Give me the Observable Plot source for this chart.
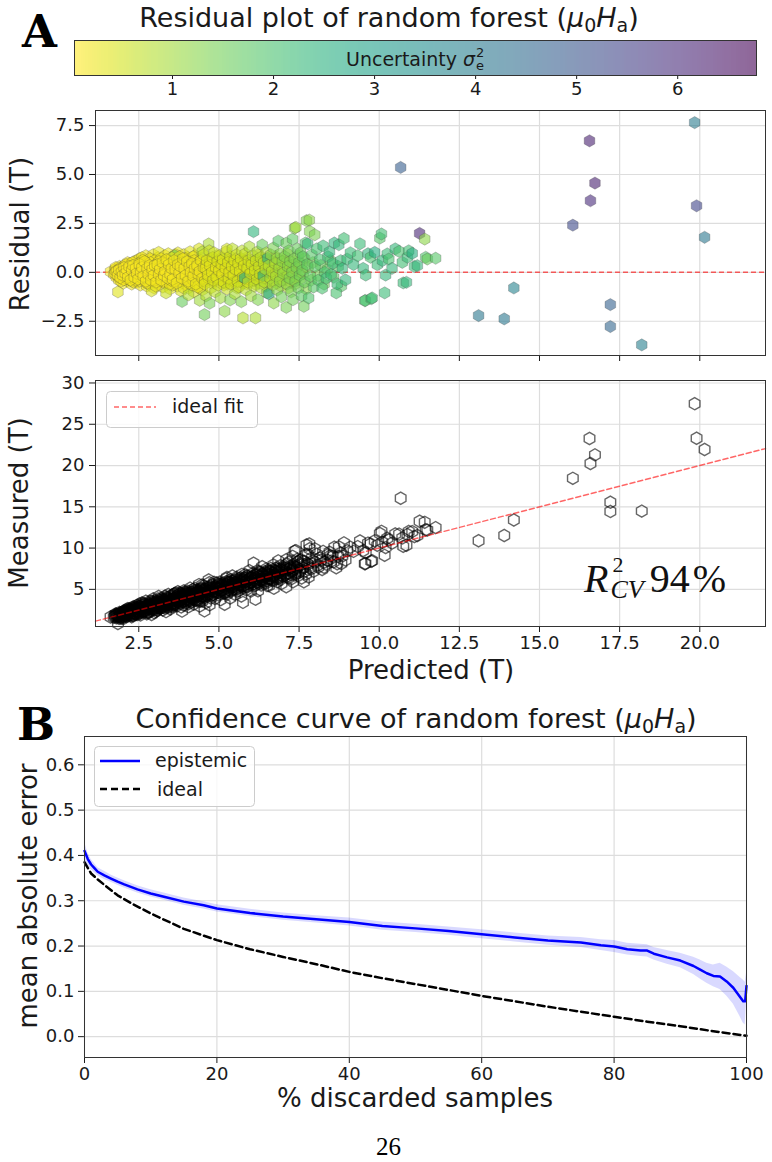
<!DOCTYPE html>
<html><head><meta charset="utf-8">
<script src="https://cdn.jsdelivr.net/npm/d3@7"></script>
<script src="https://cdn.jsdelivr.net/npm/@observablehq/plot@0.6"></script>
<style>
body{margin:0;background:#fff;}
#fig{position:relative;width:772px;height:1162px;overflow:hidden;font-family:"DejaVu Sans";background:#fff;}
.panel{position:absolute;left:0;}
#overlay{position:absolute;left:0;top:0;pointer-events:none;}
</style></head><body><div id="fig">
<div class="panel" id="cb" style="top:30px"></div>
<div class="panel" id="res" style="top:100px"></div>
<div class="panel" id="meas" style="top:370px"></div>
<div class="panel" id="conf" style="top:726px"></div>
<svg id="overlay" width="772" height="1162" font-family="DejaVu Sans" fill="#1a1a1a">
  <text x="22" y="47" font-family="DejaVu Serif" font-weight="bold" font-size="45" fill="#000">A</text>
  <text x="389" y="27" text-anchor="middle" font-size="27">Residual plot of random forest (<tspan font-style="italic">μ</tspan><tspan font-size="19" dy="5">0</tspan><tspan font-style="italic" dy="-5">H</tspan><tspan font-size="19" dy="5">a</tspan><tspan dy="-5">)</tspan></text>
  <text x="346" y="66" font-size="19">Uncertainty <tspan font-style="italic">σ</tspan><tspan font-size="13" dx="1" dy="-9">2</tspan><tspan font-size="13" dx="-8.3" dy="13">e</tspan></text>
  <text transform="translate(29,234) rotate(-90)" text-anchor="middle" font-size="26">Residual (T)</text>
  <text transform="translate(28,503) rotate(-90)" text-anchor="middle" font-size="26">Measured (T)</text>
  <text x="431" y="679" text-anchor="middle" font-size="26">Predicted (T)</text>
  <rect x="106.5" y="391.5" width="151" height="36" rx="4" fill="white" fill-opacity="0.8" stroke="#cccccc"/>
  <line x1="114" x2="156" y1="407" y2="407" stroke="red" stroke-opacity="0.6" stroke-width="1.5" stroke-dasharray="5,3"/>
  <text x="172" y="413" font-size="19">ideal fit</text>
  <text x="584" y="592" font-family="Liberation Serif" font-size="40" fill="#111"><tspan font-style="italic">R</tspan><tspan font-size="22" dx="4" dy="-20">2</tspan><tspan font-style="italic" font-size="26" dx="-13" dy="26">CV</tspan><tspan dx="6" dy="-6">94</tspan><tspan dx="3">%</tspan></text>
  <text x="17" y="740" font-family="DejaVu Serif" font-weight="bold" font-size="45" fill="#000">B</text>
  <text x="416" y="728" text-anchor="middle" font-size="27">Confidence curve of random forest (<tspan font-style="italic">μ</tspan><tspan font-size="19" dy="5">0</tspan><tspan font-style="italic" dy="-5">H</tspan><tspan font-size="19" dy="5">a</tspan><tspan dy="-5">)</tspan></text>
  <rect x="94.5" y="746.5" width="160" height="60" rx="4" fill="white" fill-opacity="0.8" stroke="#cccccc"/>
  <line x1="100" x2="140" y1="761" y2="761" stroke="blue" stroke-width="2.5"/>
  <text x="155" y="767" font-size="19">epistemic</text>
  <line x1="100" x2="140" y1="789" y2="789" stroke="black" stroke-width="2.5" stroke-dasharray="7,4"/>
  <text x="157" y="796" font-size="19">ideal</text>
  <text transform="translate(37,896) rotate(-90)" text-anchor="middle" font-size="26">mean absolute error</text>
  <text x="415" y="1107" text-anchor="middle" font-size="26">% discarded samples</text>
  <text x="388.5" y="1155" text-anchor="middle" font-family="Liberation Serif" font-size="25" fill="#000">26</text>
</svg>
</div>
<script>
// ---------- Data: [predicted (T), residual (T), uncertainty sigma_e^2] ----------
const clusterLow = [
[1.62,0.03,0.15],[1.72,-0.1,0.1],[1.75,0.12,0.12],[1.8,-0.25,0.1],[1.8,0.2,0.15],[1.85,-1.0,0.35],[1.85,0.05,0.08],[1.88,-0.4,0.12],[1.9,0.3,0.2],[1.92,-0.12,0.1],
[1.95,0.15,0.08],[1.98,-0.3,0.15],[2.0,0.02,0.1],[2.02,-0.55,0.2],[2.05,0.35,0.12],[2.08,-0.18,0.1],[2.1,0.1,0.08],[2.12,-0.42,0.15],[2.15,0.25,0.1],[2.18,-0.05,0.12],
[2.2,0.45,0.18],[2.22,-0.3,0.1],[2.25,0.08,0.1],[2.28,-0.6,0.2],[2.3,0.2,0.12],[2.32,-0.15,0.1],[2.35,0.55,0.15],[2.38,-0.35,0.12],[2.4,0.0,0.08],[2.42,0.38,0.15],
[2.45,-0.5,0.18],[2.48,0.12,0.1],[2.5,-0.22,0.12],[2.52,0.7,0.2],[2.55,-0.65,0.2],[2.58,0.3,0.12],[2.6,-0.08,0.1],[2.62,0.5,0.15],[2.65,-0.4,0.15],[2.68,0.18,0.1],
[2.7,-0.25,0.12],[2.72,0.85,0.2],[2.75,-0.7,0.22],[2.78,0.05,0.1],[2.8,0.4,0.15],[2.82,-0.5,0.18],[2.85,0.22,0.12],[2.88,-0.15,0.1],[2.9,0.65,0.18],[2.92,-0.35,0.15],
[2.95,0.9,0.25],[2.98,-0.8,0.25],[3.0,0.1,0.12],[3.02,0.45,0.15],[3.05,-0.2,0.1],[3.08,-0.6,0.2],[3.1,0.75,0.2],[3.12,1.02,0.3],[3.15,0.3,0.12],[3.18,-0.45,0.15],
[3.2,0.0,0.1],[3.22,0.55,0.18],[3.25,-0.75,0.25],[3.28,0.2,0.12],[3.3,-0.3,0.15],[3.32,0.85,0.22],[3.35,-0.1,0.1],[3.38,0.4,0.15],[3.4,-0.55,0.2],[3.42,0.95,0.25],
[3.45,0.1,0.12],[3.48,-0.85,0.3],[3.5,0.6,0.18],[3.52,-0.25,0.15],[3.55,0.3,0.12],[3.58,-0.5,0.2],[3.6,0.8,0.22],[3.62,0.05,0.1],[3.65,-0.35,0.18],[3.68,0.5,0.15],
[3.7,-0.7,0.25],[3.72,1.0,0.3],[3.75,0.2,0.12],[3.78,-0.15,0.15],[3.8,0.65,0.2],[3.82,-0.95,0.4],[3.85,-1.49,1.6],[3.85,0.35,0.15],[3.88,-0.4,0.2],[3.9,0.9,0.25],
[3.92,0.0,0.12],[3.95,-0.6,0.22],[3.98,0.45,0.18],[4.0,-0.2,0.15],[4.02,0.75,0.22],[4.05,-0.8,0.3],[4.08,0.15,0.12],[4.1,1.05,0.35],[4.12,-0.45,0.2],[4.15,0.55,0.18],
[4.18,-0.1,0.15],[4.2,0.3,0.15],[4.22,-1.0,0.4],[4.25,0.85,0.25],[4.28,-0.3,0.18],[4.3,0.05,0.15],[4.32,0.6,0.2],[4.35,-0.65,0.25],[4.38,1.2,0.4],[4.4,0.25,0.18],
[4.42,-0.2,0.15],[4.45,0.7,0.22],[4.48,-0.9,0.35],[4.5,0.4,0.2],
[1.78,0.25,0.12],[1.9,-0.05,0.1],[1.95,-0.45,0.15],[2.05,0.0,0.1],[2.1,-0.3,0.12],[2.15,0.5,0.18],[2.2,-0.1,0.1],[2.25,0.3,0.12],[2.3,-0.45,0.15],[2.35,0.1,0.1],
[2.4,-0.2,0.12],[2.45,0.6,0.15],[2.5,0.25,0.1],[2.55,-0.35,0.15],[2.6,0.75,0.2],[2.65,0.05,0.1],[2.7,0.45,0.15],[2.75,-0.15,0.12],[2.8,-0.6,0.2],[2.85,0.7,0.18],
[2.9,0.1,0.1],[2.95,-0.4,0.15],[3.0,0.6,0.18],[3.05,0.25,0.12],[3.1,-0.35,0.15],[3.15,-0.05,0.1],[3.2,0.7,0.2],[3.25,0.35,0.15],[3.3,-0.55,0.2],[3.35,0.15,0.12],
[3.4,0.6,0.18],[3.45,-0.3,0.15],[3.5,0.0,0.12],[3.55,-0.65,0.22],[3.6,0.35,0.15],[3.65,0.9,0.25],[3.7,-0.1,0.12],[3.75,0.6,0.2],[3.8,-0.45,0.18],[3.85,0.1,0.12],
[3.9,-0.8,0.3],[3.95,0.7,0.2],[4.0,0.35,0.18],[4.05,-0.35,0.2],[4.1,0.1,0.15],[4.15,-0.65,0.25],[4.2,0.8,0.25],[4.25,-0.05,0.15],[4.3,-0.5,0.2],[4.35,0.4,0.18],
[4.4,-0.8,0.3],[4.45,0.15,0.15],[4.5,-0.3,0.2],
[3.62,0.85,1.5],[4.4,-1.43,1.0],[4.05,-1.15,0.8],[3.35,-1.05,0.6],[2.9,-0.95,0.45],[4.48,1.05,0.9]
];
const clusterCore = [
[1.82,0.1,0.1],[1.87,-0.2,0.1],[1.93,0.22,0.12],[1.97,-0.08,0.1],[2.03,-0.38,0.12],[2.07,0.18,0.1],[2.13,-0.12,0.1],[2.17,0.32,0.12],[2.23,-0.22,0.1],[2.27,0.05,0.1],
[2.33,-0.5,0.15],[2.37,0.4,0.12],[2.43,-0.1,0.1],[2.47,0.28,0.12],[2.53,-0.45,0.15],[2.57,0.1,0.1],[2.63,0.62,0.18],[2.67,-0.28,0.12],[2.73,0.3,0.12],[2.77,-0.55,0.18],
[2.83,0.08,0.1],[2.87,0.5,0.15],[2.93,-0.25,0.12],[2.97,0.35,0.12],[3.03,-0.7,0.22],[3.07,0.05,0.1],[3.13,0.55,0.15],[3.17,-0.25,0.12],[3.23,0.15,0.12],[3.27,-0.45,0.15],
[3.33,0.45,0.15],[3.37,-0.2,0.12],[3.43,0.25,0.12],[3.47,-0.6,0.2],[3.53,0.75,0.2],[3.57,0.1,0.12],[3.63,-0.45,0.18],[3.67,0.3,0.15],[3.73,-0.3,0.15],[3.77,0.8,0.22],
[3.83,-0.05,0.12],[3.87,0.5,0.18],[3.93,-0.35,0.18],[3.97,0.2,0.15],[4.03,0.55,0.2],[4.07,-0.55,0.22],[4.13,0.35,0.18],[4.17,-0.25,0.18],[4.23,0.6,0.2],[4.27,0.1,0.15],
[4.33,-0.75,0.28],[4.37,0.25,0.18],[4.43,-0.45,0.22],[4.47,0.5,0.2],[4.53,-0.1,0.22],[4.57,0.45,0.25],[4.63,-0.4,0.28],[4.67,0.15,0.22],[4.73,0.7,0.3],[4.77,-0.55,0.3],
[4.83,0.3,0.25],[4.87,-0.2,0.25],[4.93,0.85,0.35],[4.97,0.05,0.25],[5.03,-0.5,0.3],[5.07,0.5,0.3],[5.13,-0.25,0.3],[5.17,0.2,0.28],[5.23,0.7,0.35],[5.27,-0.6,0.35],
[5.33,0.35,0.3],[5.37,-0.1,0.3],[5.43,0.55,0.35],[5.47,-0.45,0.35],[5.53,0.25,0.3],[5.57,-0.8,0.45],[5.63,0.65,0.4],[5.67,-0.2,0.35],[5.73,0.4,0.35],[5.77,-0.55,0.4],
[5.83,0.1,0.35],[5.87,0.75,0.45],[5.93,-0.35,0.4],[5.97,0.3,0.4],[6.03,-0.15,0.4],[6.07,0.55,0.45],[6.13,-0.6,0.5],[6.17,0.25,0.45],[6.23,0.9,0.6],[6.27,-0.35,0.5],
[6.33,0.45,0.5],[6.37,-0.05,0.5],[6.43,0.7,0.6],[6.47,-0.7,0.6],[6.53,0.2,0.55],[6.57,-0.25,0.55],[6.63,0.55,0.6],[6.67,-0.5,0.65],[6.73,0.05,0.6],[6.77,0.8,0.7],
[6.83,-0.35,0.7],[6.87,0.4,0.7],[6.93,-0.7,0.8],[6.97,0.15,0.7],[7.03,0.6,0.8],[7.07,-0.3,0.8],[7.13,0.95,0.9],[7.17,-0.8,0.9],[7.23,0.35,0.9],[7.27,-0.1,0.9],
[7.33,0.55,1.0],[7.37,-0.6,1.0],[7.43,0.2,1.0],[7.47,0.85,1.1],[7.53,-0.35,1.1],[7.57,0.4,1.1],[7.63,-0.05,1.1],[7.67,0.7,1.2],[7.72,-0.85,1.2],[7.78,0.25,1.2],
[7.88,-0.4,1.3],[7.93,0.5,1.3],[8.08,-0.15,1.4],[8.18,0.35,1.5],[8.28,-0.6,1.5],[8.38,0.15,1.6],[8.48,0.6,1.6],[8.58,-0.25,1.7],[8.72,0.3,1.7],[8.82,-0.7,1.8],
[2.0,0.2,0.1],[2.1,0.4,0.12],[2.2,0.15,0.1],[2.3,0.5,0.15],[2.4,-0.4,0.12],[2.5,0.45,0.15],[2.6,-0.3,0.12],[2.7,0.15,0.1],[2.8,0.2,0.12],[2.9,-0.05,0.1],
[3.0,-0.4,0.15],[3.1,0.2,0.12],[3.2,-0.15,0.12],[3.3,0.4,0.15],[3.4,0.05,0.12],[3.5,-0.4,0.15],[3.6,-0.2,0.12],[3.7,0.3,0.15],[3.8,0.1,0.12],[3.9,0.4,0.15],
[4.0,0.1,0.15],[4.1,-0.25,0.18],[4.2,-0.4,0.2],[4.3,0.3,0.18],[4.4,0.55,0.22],[4.5,0.1,0.2],[4.6,-0.3,0.25],[4.7,0.5,0.28],[4.8,-0.1,0.25],[4.9,0.45,0.3],
[5.0,-0.35,0.3],[5.1,0.3,0.3],[5.2,-0.55,0.35],[5.3,0.6,0.35],[5.4,-0.05,0.3],[5.5,0.35,0.35],[5.6,-0.25,0.35],[5.7,0.25,0.35],[5.8,0.55,0.4],[5.9,-0.15,0.4],
[6.0,0.35,0.45],[6.1,-0.4,0.45],[6.2,0.5,0.5],[6.3,-0.2,0.5],[6.4,0.3,0.55],[6.5,-0.5,0.6],[6.6,0.6,0.6],[6.7,-0.1,0.65],[6.8,0.35,0.7],[6.9,-0.3,0.75]
];
const clusterDense = [
[1.76,-0.05,0.1],[1.8,0.05,0.1],[1.84,-0.15,0.1],[1.88,0.12,0.1],[1.92,-0.28,0.12],[1.96,0.02,0.1],[2.0,-0.15,0.1],[2.04,0.25,0.1],[2.08,-0.05,0.1],[2.12,0.15,0.1],
[2.16,-0.25,0.12],[2.2,0.3,0.12],[2.24,-0.4,0.15],[2.28,0.12,0.1],[2.32,0.35,0.12],[2.36,-0.25,0.12],[2.4,0.2,0.1],[2.44,-0.05,0.1],[2.48,-0.35,0.15],[2.52,0.4,0.12],
[2.56,0.0,0.1],[2.6,0.25,0.12],[2.64,-0.2,0.12],[2.68,0.55,0.15],[2.72,-0.45,0.15],[2.76,0.2,0.12],[2.8,-0.1,0.1],[2.84,0.35,0.12],[2.88,-0.4,0.15],[2.92,0.15,0.12],
[2.96,-0.15,0.12],[3.0,0.35,0.15],[3.04,-0.5,0.18],[3.08,0.4,0.15],[3.12,-0.1,0.12],[3.16,0.15,0.12],[3.2,-0.4,0.15],[3.24,0.5,0.18],[3.28,-0.15,0.12],[3.32,0.05,0.12],
[3.36,0.65,0.2],[3.4,-0.3,0.15],[3.44,0.4,0.15],[3.48,-0.1,0.12],[3.52,0.2,0.15],[3.56,-0.35,0.15],[3.6,0.6,0.2],[3.64,0.15,0.12],[3.68,-0.55,0.2],[3.72,0.4,0.15],
[3.76,-0.05,0.12],[3.8,0.3,0.15],[3.84,-0.3,0.15],[3.88,0.7,0.22],[3.92,0.2,0.15],[3.96,-0.15,0.15],[4.0,0.55,0.2],[4.04,-0.45,0.2],[4.08,0.3,0.18],[4.12,0.0,0.15],
[4.16,0.45,0.2],[4.2,-0.2,0.18],[4.24,0.2,0.18],[4.28,-0.6,0.25],[4.32,0.35,0.2],[4.36,-0.1,0.18],[4.4,0.05,0.18],[4.44,0.6,0.22],[4.48,-0.3,0.22],[4.52,0.25,0.22],
[4.56,-0.45,0.25],[4.6,0.4,0.25],[4.64,0.05,0.22],[4.68,-0.3,0.25],[4.72,0.55,0.28],[4.76,0.15,0.25],[4.8,-0.45,0.3],[4.84,0.45,0.28],[4.88,-0.05,0.25],[4.92,0.25,0.28],
[4.96,-0.35,0.3],[5.0,0.65,0.35],[5.04,0.2,0.3],[5.08,-0.2,0.3],[5.12,0.45,0.32],[5.16,-0.65,0.35],[5.2,0.05,0.3],[5.24,0.35,0.32],[5.28,-0.35,0.35],[5.32,0.55,0.35],
[5.36,0.15,0.32],[5.4,-0.45,0.35],[5.44,0.3,0.35],[5.48,-0.1,0.35],[5.52,0.7,0.4],[5.56,0.05,0.35],[5.6,-0.5,0.4],[5.64,0.4,0.38],[5.68,-0.05,0.38],[5.72,0.2,0.38],
[5.76,-0.35,0.4],[5.8,0.6,0.42],[5.84,0.15,0.4],[5.88,-0.6,0.45],[5.92,0.35,0.42],[5.96,-0.15,0.42],[6.0,0.5,0.45],[6.04,0.1,0.45],[6.08,-0.4,0.48],[6.12,0.3,0.48],
[6.16,-0.1,0.48],[6.2,0.65,0.52],[6.24,0.0,0.5],[6.28,-0.55,0.55],[6.32,0.2,0.52],[6.36,0.5,0.55],[6.4,-0.3,0.55],[6.44,0.05,0.55],[6.48,0.4,0.58],[6.52,-0.2,0.58],
[6.56,0.6,0.6],[6.6,0.1,0.6],[6.64,-0.4,0.62],[6.68,0.3,0.62],[6.72,-0.05,0.65],[6.76,0.5,0.68],[6.8,-0.55,0.7],[6.84,0.2,0.7],[6.88,0.6,0.72],[6.92,-0.15,0.72],
[6.96,0.35,0.75],[7.0,-0.4,0.78],[7.05,0.15,0.8],[7.1,0.5,0.82],[7.15,-0.2,0.85],[7.2,0.3,0.88],[7.25,-0.5,0.9],[7.3,0.1,0.92],[7.35,0.4,0.95],[7.4,-0.3,0.98]
];
const clusterMid = [
[4.52,0.9,0.5],[4.55,-0.6,0.4],[4.55,-2.16,1.5],[4.58,0.2,0.3],[4.6,-1.2,0.8],[4.62,0.6,0.4],[4.65,-0.15,0.35],[4.68,1.45,0.9],[4.7,1.1,0.6],[4.71,-1.58,1.4],
[4.72,0.35,0.3],[4.75,-0.8,0.5],[4.78,0.0,0.3],[4.8,0.75,0.45],[4.82,-0.4,0.4],[4.85,1.0,0.6],[4.88,-1.0,0.7],[4.9,0.25,0.3],[4.92,-0.25,0.35],[4.95,0.55,0.4],
[4.98,-0.65,0.5],[5.0,0.1,0.3],[5.02,0.85,0.5],[5.05,-1.3,1.0],[5.08,0.4,0.35],[5.1,-0.1,0.3],[5.12,0.65,0.45],[5.15,-0.5,0.45],[5.18,-1.99,1.2],[5.2,0.2,0.35],
[5.22,1.05,0.6],[5.25,1.19,0.5],[5.25,-0.85,0.6],[5.28,0.5,0.4],[5.3,-0.3,0.4],[5.32,0.0,0.35],[5.35,-1.41,1.3],[5.35,0.8,0.5],[5.38,-0.6,0.5],[5.4,0.3,0.4],
[5.42,1.2,0.7],[5.45,-0.15,0.4],[5.48,0.6,0.45],[5.5,-1.1,0.9],[5.52,0.15,0.4],[5.55,0.9,0.55],[5.58,-0.45,0.5],[5.6,0.45,0.45],[5.62,-0.75,0.6],[5.65,0.05,0.4],
[5.68,0.7,0.5],[5.7,-1.5,1.3],[5.72,1.1,0.7],[5.75,-2.33,0.8],[5.75,-0.25,0.45],[5.78,0.35,0.45],[5.8,-0.29,2.8],[5.82,0.95,0.6],[5.85,-0.9,0.7],[5.88,0.2,0.5],
[5.9,-0.5,0.55],[5.92,0.6,0.55],[5.95,1.3,0.9],[5.98,-0.05,0.5],[6.0,-1.2,1.0],[6.02,0.4,0.5],[6.05,0.85,0.7],[6.08,2.08,2.4],[6.1,-0.7,0.7],[6.12,0.1,0.55],
[6.14,-2.33,0.9],[6.15,0.6,0.6],[6.18,-0.35,0.6],[6.2,1.05,0.8],[6.22,-1.4,1.3],[6.25,0.3,0.6],[6.28,-0.1,0.6],[6.3,0.75,0.7],[6.32,-0.8,0.8],[6.35,1.4,1.6],
[6.38,-0.17,2.6],[6.4,0.5,0.7],[6.42,-0.5,0.8],[6.45,0.15,0.7],[6.48,1.0,0.9],[6.5,-1.05,1.1],[6.52,0.72,2.7],[6.55,0.35,0.8],[6.56,-1.1,2.8],[6.6,-0.3,0.8],
[6.62,0.9,1.0],[6.65,0.05,0.8],[6.68,-0.65,1.0],[6.7,1.25,1.4],[6.71,-1.57,1.2],[6.75,0.45,0.9],[6.78,-0.2,0.9],[6.8,0.7,1.1],[6.82,-0.9,1.2],[6.85,1.6,1.8],
[6.88,0.2,1.0],[6.9,-0.45,1.1],[6.92,0.95,1.3],[6.95,-1.25,1.5],[6.98,0.55,1.2],[7.0,-0.05,1.1]
];
const clusterHigh = [
[7.05,0.8,1.3],[7.1,1.49,1.6],[7.1,-1.79,1.4],[7.12,-0.6,1.2],[7.15,0.3,1.2],[7.18,1.1,1.5],[7.2,-0.3,1.3],[7.22,0.55,1.3],[7.25,-1.0,1.4],[7.28,0.0,1.3],
[7.3,1.7,1.7],[7.31,-1.4,1.5],[7.35,0.7,1.4],[7.36,2.26,1.2],[7.38,-0.45,1.4],[7.4,2.3,1.0],[7.42,0.25,1.4],[7.45,1.2,1.6],[7.48,-0.8,1.5],[7.5,0.5,1.5],
[7.52,-0.15,1.5],[7.55,1.0,1.6],[7.58,-1.2,1.7],[7.6,0.1,1.5],[7.62,0.8,1.7],[7.65,-1.74,1.5],[7.68,-0.5,1.6],[7.7,1.5,1.9],[7.73,2.64,1.3],[7.75,0.4,1.7],
[7.77,1.46,2.3],[7.8,-1.31,1.9],[7.82,2.67,1.2],[7.83,2.09,1.3],[7.85,-0.2,1.7],[7.9,0.9,1.8],[7.95,-0.75,1.8],[7.99,1.92,1.4],[8.0,0.3,1.8],[8.05,1.2,2.0],
[8.1,-0.4,1.9],[8.15,0.65,2.0],[8.22,-0.81,2.0],[8.25,1.35,2.2],[8.3,0.0,2.0],[8.35,-0.3,2.1],[8.4,0.8,2.1],[8.45,1.05,2.3],[8.5,-0.1,2.1],[8.55,0.45,2.2],
[8.6,1.5,2.4],[8.66,-1.05,2.0],[8.69,-0.59,2.2],[8.74,1.41,2.3],[8.8,0.6,2.2],[8.85,0.2,2.3],[8.9,1.73,2.1],[8.95,-0.39,2.3],[9.0,0.68,2.2],
[9.1,1.0,2.2],[9.2,0.4,2.3],[9.33,0.85,2.1],[9.4,1.46,2.2],[9.5,0.2,2.3],[9.55,-1.45,1.9],[9.57,-1.44,2.0],[9.58,-0.14,2.2],[9.65,0.95,2.4],[9.73,0.77,2.0],
[9.75,-1.35,2.0],[9.78,-1.31,2.1],[9.86,1.02,2.6],[9.94,0.39,2.2],[10.02,1.75,1.8],[10.07,1.96,2.1],[10.1,0.6,2.3],[10.17,-1.05,2.2],[10.2,-0.14,2.3],[10.25,0.94,2.2],
[10.3,0.68,2.0],[10.4,0.2,2.3],[10.5,1.2,2.3],[10.62,1.07,2.0],[10.72,0.51,2.1],[10.75,-0.54,2.2],[10.85,-0.51,2.3],[10.88,0.77,2.2],[10.92,1.1,2.1],[11.03,0.97,2.6],
[11.1,0.3,2.2],[11.19,0.34,2.3],[11.45,0.77,1.9],[11.5,0.68,1.6],[11.76,0.72,1.8]
];
const outliers = [
[10.67,5.36,4.8],[11.26,1.99,6.1],[11.42,1.7,1.2],[13.1,-2.21,4.1],[13.9,-2.38,4.1],[14.2,-0.8,3.8],[16.04,2.41,5.3],[16.56,6.72,6.2],
[16.73,4.56,6.2],[16.59,3.66,6.0],[17.21,-1.65,4.7],[17.21,-2.77,4.6],[18.19,-3.71,3.9],[19.84,7.65,4.0],[19.9,3.4,5.4],[20.15,1.79,4.1]
];

// axes / scales
const uncertaintyDomain = [0.03, 6.78];
const uncertaintyTicks = [1, 2, 3, 4, 5, 6];
const predictedDomain = [1.15, 22.05];
const predictedTicks = [2.5, 5.0, 7.5, 10.0, 12.5, 15.0, 17.5, 20.0];
const residualDomain = [-4.25, 8.27];
const residualTicks = [-2.5, 0.0, 2.5, 5.0, 7.5];
const measuredDomain = [0.5, 30.3];
const measuredTicks = [5, 10, 15, 20, 25, 30];

// confidence curve
const discardPct = [0,0.5,1,1.5,2,3,4,5,6,8,10,12,15,18,20,25,30,35,40,45,50,55,60,65,70,75,78,80,82,84,85,86,88,90,92,93,94,95,96,97,98,99,99.5,99.8,100];
const epistemicMAE = [0.41,0.392,0.38,0.372,0.364,0.356,0.349,0.342,0.336,0.325,0.316,0.309,0.298,0.29,0.283,0.273,0.265,0.259,0.253,0.244,0.239,0.233,0.226,0.219,0.212,0.208,0.202,0.199,0.193,0.19,0.19,0.183,0.175,0.168,0.156,0.148,0.14,0.134,0.133,0.122,0.108,0.088,0.078,0.078,0.112];
const epistemicLow = [0.39,0.378,0.369,0.362,0.355,0.347,0.341,0.334,0.328,0.317,0.308,0.301,0.29,0.282,0.275,0.265,0.257,0.251,0.244,0.235,0.23,0.224,0.216,0.209,0.202,0.197,0.19,0.186,0.18,0.177,0.176,0.169,0.16,0.152,0.137,0.127,0.118,0.11,0.104,0.09,0.072,0.045,0.03,0.026,0.075];
const epistemicHigh = [0.43,0.406,0.391,0.382,0.373,0.365,0.357,0.35,0.344,0.333,0.324,0.317,0.306,0.298,0.291,0.281,0.273,0.267,0.262,0.253,0.248,0.242,0.236,0.229,0.222,0.219,0.214,0.212,0.206,0.204,0.203,0.197,0.19,0.184,0.175,0.169,0.162,0.158,0.162,0.154,0.144,0.131,0.125,0.12,0.14];
const idealPct = [0,1,2,3,5,7,10,15,20,25,30,35,40,45,50,55,60,65,70,75,80,85,90,95,100];
const idealMAE = [0.385,0.36,0.347,0.335,0.312,0.295,0.272,0.238,0.213,0.193,0.176,0.16,0.143,0.129,0.116,0.103,0.09,0.078,0.066,0.055,0.044,0.033,0.023,0.012,0.002];
const confDomainY = [-0.046, 0.6625];
const confTicksY = [0, 0.1, 0.2, 0.3, 0.4, 0.5, 0.6];
const confTicksX = [0, 20, 40, 60, 80, 100];

// ---------- build ----------
const points = [...clusterLow, ...clusterCore, ...clusterDense, ...clusterMid, ...clusterHigh, ...outliers].map(([p, r, u]) => ({p, r, u}));
const conf = discardPct.map((x, i) => ({x, m: epistemicMAE[i], lo: epistemicLow[i], hi: epistemicHigh[i]}));
const ideal = idealPct.map((x, i) => ({x, y: idealMAE[i]}));

const style = {fontFamily: "DejaVu Sans", fontSize: "18px", color: "#1a1a1a", background: "transparent", overflow: "visible"};
const gridColor = "#dddddd";
const frameColor = "#333333";
const colorScale = {type: "linear", scheme: "viridis", reverse: true, domain: uncertaintyDomain};

// colorbar ramp (gradient cells)
const cbN = 300;
const cbStep = (uncertaintyDomain[1] - uncertaintyDomain[0]) / cbN;
const cbStops = d3.range(cbN).map(i => uncertaintyDomain[0] + i * cbStep);

document.getElementById("cb").append(Plot.plot({
  width: 772, height: 70, marginTop: 10, marginBottom: 25, marginLeft: 74, marginRight: 16,
  style,
  x: {domain: uncertaintyDomain, ticks: uncertaintyTicks, tickFormat: "d", tickSize: 4, tickPadding: 3, label: null},
  y: {domain: [0, 1], axis: null, label: null},
  color: colorScale,
  marks: [
    Plot.rect(cbStops, {x1: d => d, x2: d => Math.min(d + cbStep, uncertaintyDomain[1]), y1: 0, y2: 1, fill: d => d, fillOpacity: 0.6, shapeRendering: "crispEdges"}),
    Plot.frame({stroke: frameColor})
  ]
}));

document.getElementById("res").append(Plot.plot({
  width: 772, height: 265, marginTop: 10, marginBottom: 10, marginLeft: 95, marginRight: 7,
  style,
  x: {domain: predictedDomain, ticks: predictedTicks, tickFormat: () => "", tickSize: 6, label: null},
  y: {domain: residualDomain, ticks: residualTicks, tickFormat: ".1f", tickSize: 6, tickPadding: 5, label: null},
  color: colorScale,
  marks: [
    Plot.ruleX(predictedTicks, {stroke: gridColor, strokeWidth: 1.2}),
    Plot.ruleY(residualTicks, {stroke: gridColor, strokeWidth: 1.2}),
    Plot.ruleY([0], {stroke: "red", strokeOpacity: 0.6, strokeWidth: 1.5, strokeDasharray: "5,3"}),
    Plot.dot(points, {x: d => d.p, y: d => d.r, fill: d => d.u, symbol: "hexagon", r: 5.3, fillOpacity: 0.6, stroke: "#444", strokeOpacity: 0.45, strokeWidth: 0.6}),
    Plot.frame({stroke: frameColor})
  ]
}));

document.getElementById("meas").append(Plot.plot({
  width: 772, height: 286, marginTop: 10, marginBottom: 30, marginLeft: 95, marginRight: 7,
  style,
  x: {domain: predictedDomain, ticks: predictedTicks, tickFormat: ".1f", tickSize: 6, tickPadding: 4, label: null},
  y: {domain: measuredDomain, ticks: measuredTicks, tickFormat: "d", tickSize: 6, tickPadding: 5, label: null},
  marks: [
    Plot.ruleX(predictedTicks, {stroke: gridColor, strokeWidth: 1.2}),
    Plot.ruleY(measuredTicks, {stroke: gridColor, strokeWidth: 1.2}),
    Plot.dot(points, {x: d => d.p, y: d => d.p + d.r, symbol: "hexagon", r: 5.3, fill: "none", stroke: "black", strokeOpacity: 0.6, strokeWidth: 1.4}),
    Plot.line(predictedDomain, {x: d => d, y: d => d, stroke: "red", strokeOpacity: 0.6, strokeWidth: 1.5, strokeDasharray: "5,3"}),
    Plot.frame({stroke: frameColor})
  ]
}));

document.getElementById("conf").append(Plot.plot({
  width: 772, height: 364, marginTop: 10, marginBottom: 33, marginLeft: 84, marginRight: 26,
  style,
  x: {domain: [0, 100], ticks: confTicksX, tickFormat: "d", tickSize: 6, tickPadding: 4, label: null},
  y: {domain: confDomainY, ticks: confTicksY, tickFormat: ".1f", tickSize: 6, tickPadding: 4, label: null},
  marks: [
    Plot.ruleX(confTicksX, {stroke: gridColor, strokeWidth: 1.2}),
    Plot.ruleY(confTicksY, {stroke: gridColor, strokeWidth: 1.2}),
    Plot.areaY(conf, {x: "x", y1: "lo", y2: "hi", fill: "blue", fillOpacity: 0.15}),
    Plot.line(ideal, {x: "x", y: "y", stroke: "black", strokeWidth: 2.5, strokeDasharray: "7,4"}),
    Plot.line(conf, {x: "x", y: "m", stroke: "blue", strokeWidth: 2.5}),
    Plot.frame({stroke: frameColor})
  ]
}));
</script></body></html>
